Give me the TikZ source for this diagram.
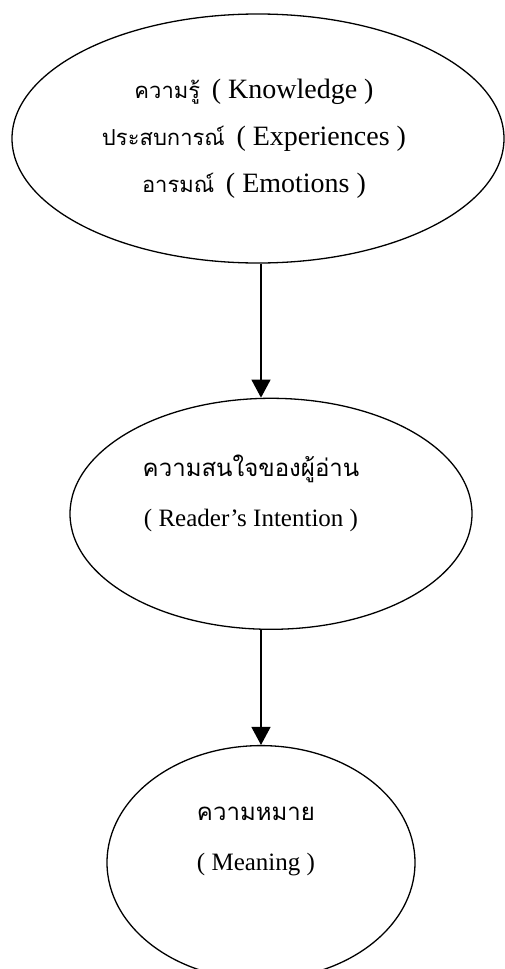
\documentclass[tikz,border=0pt]{standalone}
\usepackage{fontspec}
\setmainfont{Liberation Serif}
\newfontfamily\thaifont[Script=Thai]{Loma}
\usepackage{tikz}
\usetikzlibrary{shapes.geometric, arrows.meta, positioning, calc}
\newcommand{\thaitext}[2]{{\thaifont\fontsize{#1}{#1}\selectfont #2}}
\tikzset{
  % ellipse bubbles
  bubble/.style={ellipse, draw=black, line width=1.3pt, inner sep=0pt, minimum width=#1},
  txt/.style={align=center, inner sep=0pt},
  arrow/.style={-{Triangle[width=19pt, length=18pt]}, line width=1.3pt},
}
\begin{document}
\begin{tikzpicture}
    \useasboundingbox (0,0) rectangle (504pt,-969pt);

    % Bubbles
    \node[bubble=492pt, minimum height=249pt] (know) at (258pt,-138.5pt) {};
    \node[bubble=402pt, minimum height=231pt, below=134pt of know, xshift=13pt] (intent) {};
    \node[bubble=308pt, minimum height=234pt, below=115pt of intent, xshift=-10pt] (mean) {};

    % Texts
    \node[txt, font=\fontsize{28}{47}\selectfont] (knowtxt) at ($(know.center)+(-4pt,0pt)$)
      {\thaitext{22}{ความรู้}\, ( Knowledge )\\
       \thaitext{22}{ประสบการณ์}\, ( Experiences )\\
       \thaitext{22}{อารมณ์}\, ( Emotions )};
    \node[txt, font=\fontsize{25}{50}\selectfont] (intenttxt) at ($(intent.center)+(-20pt,20pt)$)
      {\thaitext{24}{ความสนใจของผู้อ่าน}\\( Reader’s Intention )};
    \node[txt, font=\fontsize{25}{50}\selectfont] (meantxt) at ($(mean.center)+(-5pt,21pt)$)
      {\thaitext{24}{ความหมาย}\\( Meaning )};

    % Arrows
    \draw[arrow] (know.south -| mean.north) -- (intent.north -| mean.north);
    \draw[arrow] (intent.south -| mean.north) -- (mean.north);
\end{tikzpicture}
\end{document}
